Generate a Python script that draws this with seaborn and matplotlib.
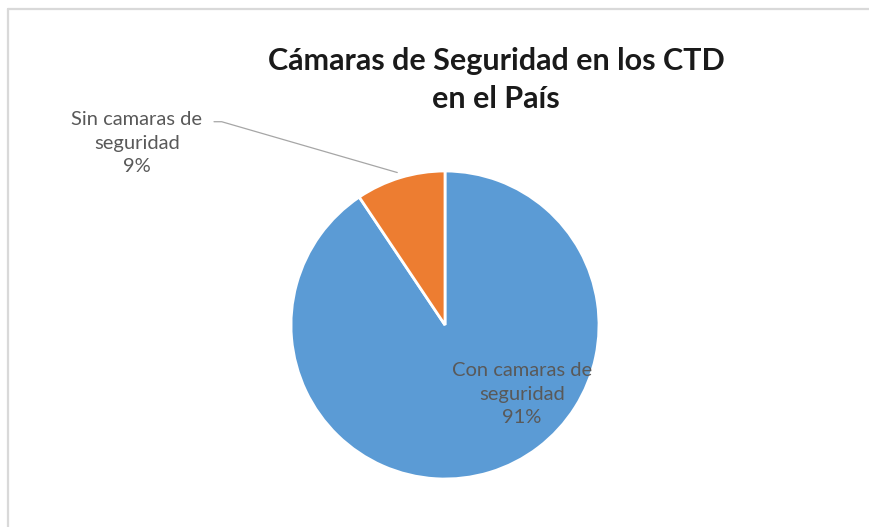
import matplotlib
matplotlib.use("Agg")
import matplotlib.pyplot as plt
from matplotlib.lines import Line2D
import seaborn as sns

# data
categories = ["Con camaras de\nseguridad", "Sin camaras de\nseguridad"]
shares = [90.6, 9.4]
slice_colors = ["#5B9BD5", "#ED7D31"]
title = "Cámaras de Seguridad en los CTD\nen el País"

sns.set_theme(style="white")
plt.rcParams["font.family"] = ["Lato", "DejaVu Sans"]

W, H = 870, 527
fig = plt.figure(figsize=(W / 100, H / 100), dpi=100)

# pie centre / radius in pixels
cx, cy, r = 445, 325, 154
ax = fig.add_axes([(cx - r) / W, (H - cy - r) / H, 2 * r / W, 2 * r / H])

wedges, _ = ax.pie(
    shares, colors=slice_colors, startangle=90, counterclock=False,
    radius=1, wedgeprops=dict(edgecolor="white", linewidth=2),
)
ax.set_xlim(-1, 1)
ax.set_ylim(-1, 1)
ax.set_aspect("auto")
ax.axis("off")

pct = [f"{round(v):.0f}%" for v in shares]
txt_color = "#595959"

# inside label for the big slice
ax.text(0.5, -0.45, f"{categories[0]}\n{pct[0]}", ha="center", va="center",
        fontsize=14.5, color=txt_color, linespacing=1.45)

# outside label + leader line for the small slice
ax.text(-2.0, 1.18, f"{categories[1]}\n{pct[1]}", ha="center", va="center",
        fontsize=14.5, color=txt_color, linespacing=1.45, clip_on=False)
ax.plot([-1.50, -1.45, -0.31], [1.32, 1.32, 0.99], color="#a6a6a6",
        lw=0.9, clip_on=False)

fig.text(496 / W, 1 - 80 / H, title, ha="center", va="center",
         fontsize=22, fontweight="bold", color="#1a1a1a", linespacing=1.45)

# chart frame (left and top edges visible)
fig.add_artist(Line2D([8 / W, 8 / W], [0, 1 - 9 / H], color="#d9d9d9", lw=1.6))
fig.add_artist(Line2D([8 / W, 1], [1 - 9 / H, 1 - 9 / H], color="#d9d9d9", lw=1.6))

fig.savefig("out.png", dpi=100, facecolor="white")
